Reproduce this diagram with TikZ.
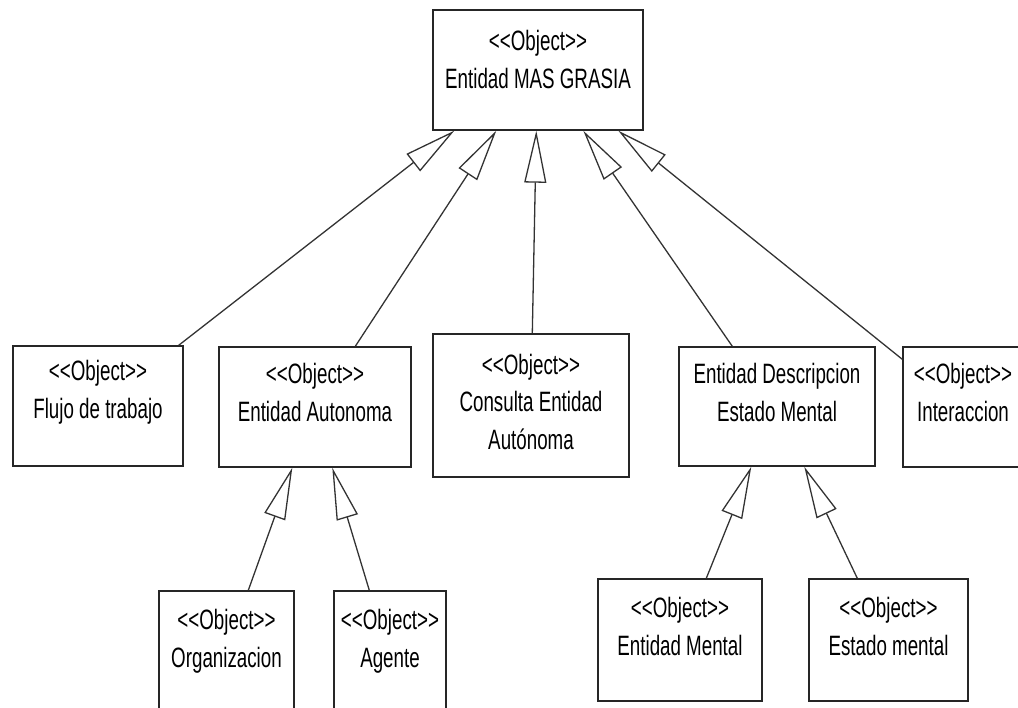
\documentclass[tikz,border=0pt]{standalone}
\usepackage{fontspec}
\setmainfont[FakeStretch=0.67]{Liberation Sans}
\usetikzlibrary{arrows.meta}

\tikzset{
  umlbox/.style={draw=black!85, line width=1.4pt, fill=white, inner sep=0pt},
  umltext/.style={anchor=base, align=center, inner sep=0pt,
    font=\fontsize{28}{37.5}\selectfont},
  generalize/.style={draw=black!80, line width=1.3pt,
    -{Triangle[open, length=52pt, width=22pt, line width=1.3pt]}}
}
% stereotype text, kept free of the guillemet ligature
\newcommand\stereo{<{}<Object>{}>}

\begin{document}
\begin{tikzpicture}[x=1pt, y=-1pt]
\useasboundingbox (0,0) rectangle (1018,708);
\clip (0,0) rectangle (1018,708);

% class boxes (text anchored at the baseline of its last line)
\node[umlbox, minimum width=210pt, minimum height=120pt] (top) at (538,70) {};
\node[umltext] (toptxt) at ([yshift=-79pt]top.north) {\stereo\\Entidad MAS GRASIA};

\node[umlbox, minimum width=170pt, minimum height=120pt] (flujo) at (98,406) {};
\node[umltext] (flujotxt) at ([yshift=-73pt]flujo.north) {\stereo\\Flujo de trabajo};

\node[umlbox, minimum width=192pt, minimum height=120pt] (auto) at (315,407) {};
\node[umltext] (autotxt) at ([yshift=-75pt]auto.north) {\stereo\\Entidad Autonoma};

\node[umlbox, minimum width=196pt, minimum height=143pt] (consulta) at (531,405.5) {};
\node[umltext] (consultatxt) at ([yshift=-116pt]consulta.north) {\stereo\\Consulta Entidad\\Autónoma};

\node[umlbox, minimum width=196pt, minimum height=119pt] (descr) at (777,406.5) {};
\node[umltext] (descrtxt) at ([yshift=-75pt]descr.north) {Entidad Descripcion\\Estado Mental};

\node[umlbox, minimum width=120pt, minimum height=120pt] (inter) at (963,407) {};
\node[umltext] (intertxt) at ([yshift=-75pt]inter.north) {\stereo\\Interaccion};

\node[umlbox, minimum width=135pt, minimum height=120pt] (org) at (226.5,651) {};
\node[umltext] (orgtxt) at ([yshift=-77pt]org.north) {\stereo\\Organizacion};

\node[umlbox, minimum width=112pt, minimum height=120pt] (agente) at (390,651) {};
\node[umltext] (agentetxt) at ([yshift=-77pt]agente.north) {\stereo\\Agente};

\node[umlbox, minimum width=164pt, minimum height=122pt] (emental) at (680,640) {};
\node[umltext] (ementaltxt) at ([yshift=-77pt]emental.north) {\stereo\\Entidad Mental};

\node[umlbox, minimum width=159pt, minimum height=122pt] (estado) at (888.5,640) {};
\node[umltext] (estadotxt) at ([yshift=-77pt]estado.north) {\stereo\\Estado mental};

% attachment points on the parent boxes
\coordinate (t1) at ([xshift=22pt]top.south west);
\coordinate (t2) at ([xshift=64pt]top.south west);
\coordinate (t3) at ([xshift=104pt]top.south west);
\coordinate (t4) at ([xshift=151pt]top.south west);
\coordinate (t5) at ([xshift=186pt]top.south west);
\coordinate (a1) at ([xshift=74pt]auto.south west);
\coordinate (a2) at ([xshift=114pt]auto.south west);
\coordinate (d1) at ([xshift=73pt]descr.south west);
\coordinate (d2) at ([xshift=126pt]descr.south west);

% attachment points on the child boxes
\coordinate (c1) at ([xshift=-5pt]flujo.north east);
\coordinate (c2) at ([xshift=137pt]auto.north west);
\coordinate (c3) at ([xshift=100pt]consulta.north west);
\coordinate (c4) at ([xshift=54pt]descr.north west);
\coordinate (c5) at ([yshift=-13pt]inter.north west);
\coordinate (c6) at ([xshift=90pt]org.north west);
\coordinate (c7) at ([xshift=36pt]agente.north west);
\coordinate (c8) at ([xshift=109pt]emental.north west);
\coordinate (c9) at ([xshift=49pt]estado.north west);

% generalization connectors
\draw[generalize] (c1) -- (t1);
\draw[generalize] (c2) -- (t2);
\draw[generalize] (c3) -- (t3);
\draw[generalize] (c4) -- (t4);
\draw[generalize] (c5) -- (t5);
\draw[generalize] (c6) -- (a1);
\draw[generalize] (c7) -- (a2);
\draw[generalize] (c8) -- (d1);
\draw[generalize] (c9) -- (d2);
\end{tikzpicture}
\end{document}
